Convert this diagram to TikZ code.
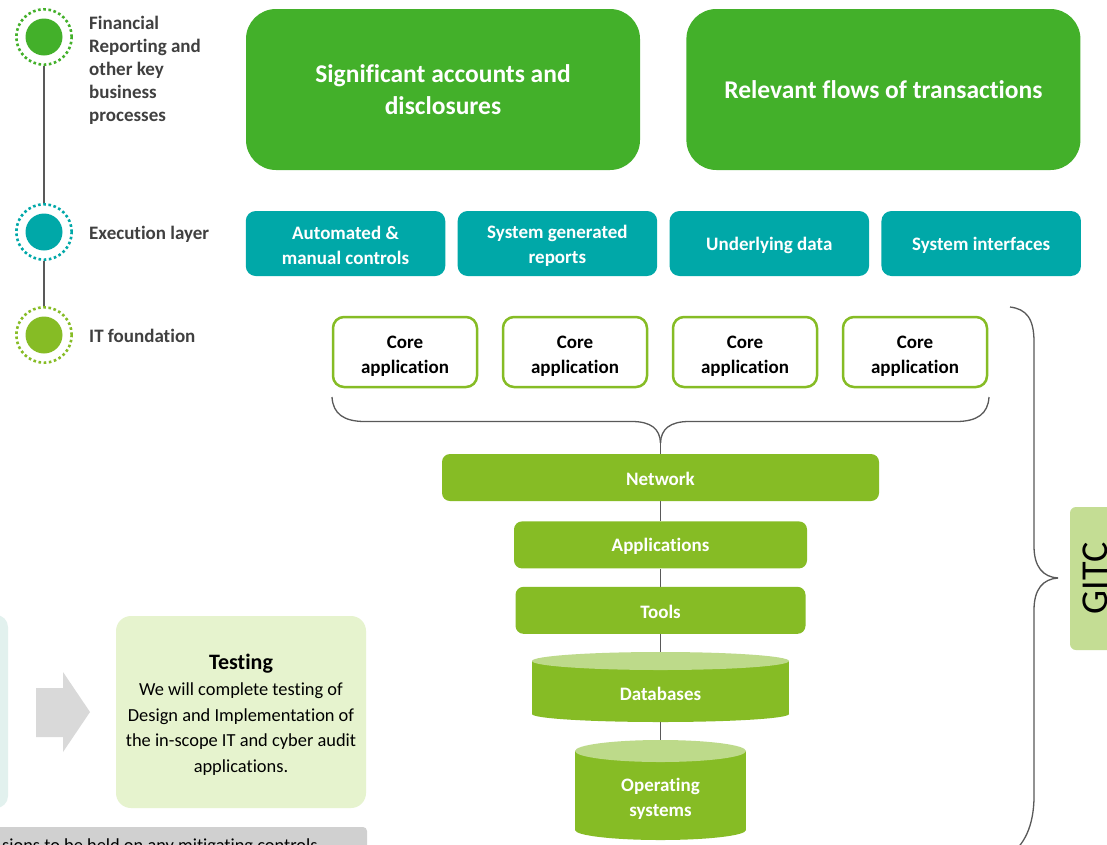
\documentclass[tikz,border=0pt]{standalone}
\usepackage{fontspec}
\setmainfont{Carlito}[Ligatures=NoCommon]
\usepackage{xcolor}
\usepackage{tikz}
\usetikzlibrary{positioning, backgrounds}
\definecolor{LayerGreen}{RGB}{67,176,42}
\definecolor{LayerTeal}{RGB}{0,168,168}
\definecolor{LayerLime}{RGB}{134,188,37}
\definecolor{LimeTop}{RGB}{189,218,138}
\definecolor{GitcFill}{RGB}{196,221,148}
\definecolor{TestFill}{RGB}{230,243,206}
\definecolor{MintFill}{RGB}{226,241,238}
\definecolor{ArrowGrey}{RGB}{217,217,217}
\definecolor{NoteGrey}{RGB}{208,208,208}
\definecolor{BraceGrey}{RGB}{89,89,89}
\definecolor{LegendText}{RGB}{64,64,64}

\begin{document}
\begin{tikzpicture}[
    x=1pt, y=-1pt,
    font=\fontsize{19}{24.5}\selectfont\bfseries,
    ring/.style={
        circle,
        draw=#1,
        line width=2.6pt,
        dash pattern=on 2.6pt off 2.6pt,
        minimum size=55.4pt,
        inner sep=0pt
    },
    dot/.style={
        circle,
        fill=#1,
        minimum size=37pt,
        inner sep=0pt
    },
    legend/.style={
        anchor=west,
        align=left,
        inner sep=0pt,
        text=LegendText,
        font=\fontsize{19}{23}\selectfont\bfseries
    },
    bigbox/.style={
        rounded corners=30pt,
        fill=LayerGreen,
        text=white,
        align=center,
        minimum width=394pt,
        minimum height=161pt,
        font=\fontsize{25.5}{31.5}\selectfont\bfseries
    },
    execbox/.style={
        rounded corners=10pt,
        fill=LayerTeal,
        text=white,
        align=center,
        text height=42pt,
        minimum width=199.5pt,
        minimum height=65pt
    },
    corebox/.style={
        draw=LayerLime,
        line width=2.5pt,
        rounded corners=11pt,
        fill=white,
        align=center,
        text height=45pt,
        minimum width=144pt,
        minimum height=70pt,
        font=\fontsize{19}{25}\selectfont\bfseries
    },
    barbox/.style={
        rounded corners=8pt,
        fill=LayerLime,
        text=white,
        text height=17pt,
        minimum height=47pt
    },
    cyltext/.style={
        text=white,
        align=center
    },
    testbox/.style={
        rounded corners=15pt,
        fill=TestFill,
        align=center,
        text height=123.5pt,
        minimum width=250pt,
        minimum height=192pt,
        font=\fontsize{18.4}{25.6}\selectfont
    },
    gitcbox/.style={
        rounded corners=6pt,
        fill=GitcFill,
        rotate=90,
        minimum width=143pt,
        minimum height=50pt,
        font=\fontsize{38}{40}\selectfont
    },
    spine/.style={
        BraceGrey,
        line width=1.3pt
    }
]
\useasboundingbox (0,0) rectangle (1107,844);
\clip (0,0) rectangle (1107,844);

% Legend column on the left
\node[ring=LayerGreen] (fr) at (44,37) {};
\node[dot=LayerGreen] (frdot) at (fr) {};
\node[ring=LayerTeal] (ex) at (44,232) {};
\node[dot=LayerTeal] (exdot) at (ex) {};
\node[ring=LayerLime] (it) at (44,335) {};
\node[dot=LayerLime] (itdot) at (it) {};

\node[legend] (frtext) at (89,70.5) {Financial\\Reporting and\\other key\\business\\processes};
\node[legend, anchor=base west] (extext) at (89,239.5) {Execution layer};
\node[legend, anchor=base west] (ittext) at (89,342.5) {IT foundation};

% Financial reporting layer
\node[bigbox] (accounts) at (443,89.5) {Significant accounts and\\disclosures};
\node[bigbox, right=46pt of accounts] (flows) {Relevant flows of transactions};

% Execution layer
\node[execbox] (controls) at (345.5,243.5) {Automated \&\\manual controls};
\node[execbox, right=12pt of controls] (reports) {System generated\\reports};
\node[execbox, right=12pt of reports, text height=17pt] (data) {Underlying data};
\node[execbox, right=12pt of data, text height=17pt] (interfaces) {System interfaces};

% IT foundation: core applications
\node[corebox] (core1) at (405,352) {Core\\application};
\node[corebox, right=23.5pt of core1] (core2) {Core\\application};
\node[corebox, right=23.5pt of core2] (core3) {Core\\application};
\node[corebox, right=23.5pt of core3] (core4) {Core\\application};

% Brace gathering the core applications
\coordinate (tip) at (660.5,443);
\draw[spine] (332,397) .. controls (333,414) and (344,421.5) .. (365,421.5) -- (632,421.5) .. controls (651,421.5) and (660,429) .. (tip);
\draw[spine] (989,397) .. controls (988,414) and (977,421.5) .. (956,421.5) -- (689,421.5) .. controls (670,421.5) and (661,429) .. (tip);

% Stack of infrastructure layers
\node[barbox, minimum width=437pt] (network) at (660.5,477.5) {Network};
\node[barbox, minimum width=293pt, below=20pt of network] (apps) {Applications};
\node[barbox, minimum width=290pt, below=18pt of apps] (tools) {Tools};

% Databases cylinder
\coordinate (dbtop) at (660.5,652);
\coordinate (dbbot) at (660.5,722);
\fill[LayerLime] (660.5,714) ellipse[x radius=128.5, y radius=8];
\fill[LayerLime] (532,661) rectangle (789,714);
\fill[LimeTop] (660.5,661) ellipse[x radius=128.5, y radius=9];
\node[cyltext, text height=17pt] (dbtext) at (660.5,692) {Databases};

% Operating systems cylinder
\coordinate (ostop) at (660.5,740);
\fill[LayerLime] (660.5,830) ellipse[x radius=85.5, y radius=10];
\fill[LayerLime] (575,751) rectangle (746,830);
\fill[LimeTop] (660.5,751) ellipse[x radius=85.5, y radius=11];
\node[cyltext, text height=41pt] (ostext) at (660.5,797) {Operating\\systems};

% GITC brace and label
\draw[spine] (1010,307) .. controls (1026,309) and (1034,318) .. (1034,342) -- (1034,546) .. controls (1034,567) and (1043,577) .. (1058,578);
\draw[spine] (1008,856) .. controls (1024,846) and (1034,826) .. (1034,796) -- (1034,610) .. controls (1034,589) and (1043,579) .. (1058,578);
\node[gitcbox] (gitc) at (1095,578.5) {GITC};

% Testing step with the partial step before it
\fill[MintFill, rounded corners=12pt] (-40,615) rectangle (8,808);
\fill[ArrowGrey] (36,688) -- (63,688) -- (63,672) -- (90,712) -- (63,752) -- (63,737) -- (36,737) -- cycle;
\node[testbox] (testing) at (241,712) {{\fontsize{22}{27}\selectfont\bfseries Testing}\\[0.5pt]We will complete testing of\\Design and Implementation of\\the in-scope IT and cyber audit\\applications.};

% Note strip at the bottom
\fill[NoteGrey, rounded corners=4pt] (-20,827) rectangle (367,880);
\node[anchor=base west, inner sep=0pt, font=\fontsize{18.4}{22}\selectfont] (note) at (2,851.5) {sions to be held on any mitigating controls};

% Connectors drawn behind the shapes
\begin{scope}[on background layer]
\fill[white] (0,0) rectangle (1107,844);
\draw[spine] (fr.south) -- (ex.north);
\draw[spine] (ex.south) -- (it.north);
\draw[spine] (tip) -- (network.north);
\draw[spine] (network.south) -- (apps.north);
\draw[spine] (apps.south) -- (tools.north);
\draw[spine] (tools.south) -- (dbtop);
\draw[spine] (dbbot) -- (ostop);
\end{scope}

\end{tikzpicture}
\end{document}
